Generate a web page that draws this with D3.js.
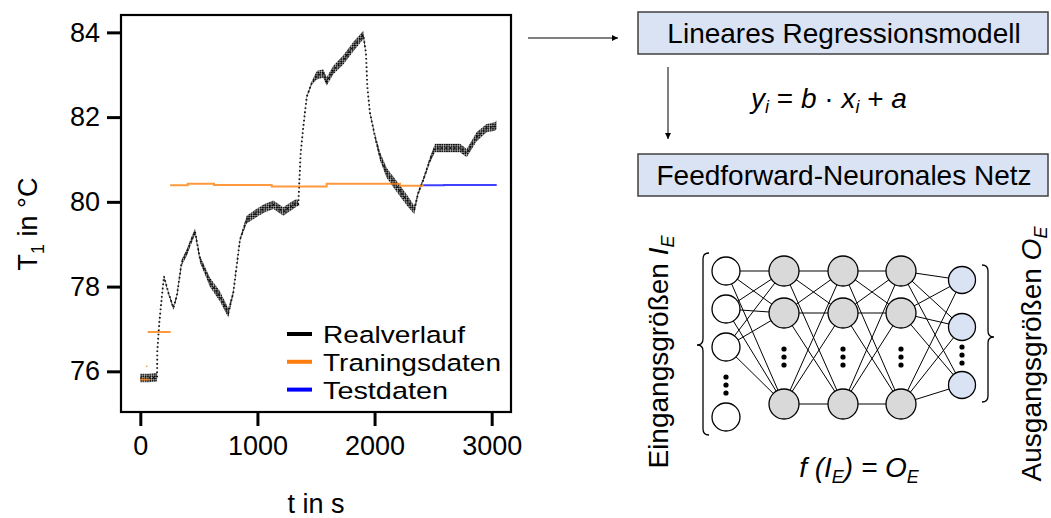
<!DOCTYPE html>
<html>
<head>
<meta charset="utf-8">
<script src="https://cdn.jsdelivr.net/npm/d3@7"></script>
<style>
    body { margin: 0; background: #fff; }
    svg text { font-family: "Liberation Sans", Arial, sans-serif; fill: #000; }
</style>
</head>
<body>
<svg id="fig" width="1051" height="518"></svg>
<script>
// --- Data ---
// Realverlauf: time in s, temperature in °C, half width of the noisy band in °C
const realTime = [0, 70, 143, 145, 162, 183, 202, 240, 282, 311, 353, 396, 430, 467, 510, 595, 680, 751, 794, 851, 908, 994, 1060, 1136, 1221, 1290, 1335, 1349, 1369, 1392, 1421, 1463, 1506, 1562, 1591, 1648, 1733, 1818, 1904, 1927, 1938, 1961, 2004, 2047, 2104, 2189, 2274, 2339, 2373, 2416, 2473, 2516, 2616, 2729, 2787, 2872, 2957, 3028, 3043];
const realTemp = [75.84, 75.84, 75.86, 76.48, 77.15, 77.74, 78.24, 77.85, 77.5, 77.77, 78.57, 78.8, 79.05, 79.3, 78.64, 78.1, 77.77, 77.38, 77.86, 79.11, 79.58, 79.74, 79.85, 79.93, 79.77, 79.9, 79.98, 79.95, 81.15, 81.78, 82.48, 82.8, 82.99, 83.03, 82.84, 83.11, 83.35, 83.66, 83.94, 83.5, 82.72, 82.09, 81.54, 81.07, 80.68, 80.36, 80.05, 79.81, 80.21, 80.52, 80.99, 81.27, 81.27, 81.27, 81.15, 81.54, 81.74, 81.78, 81.82];
const realSpread = [0.1, 0.1, 0.1, 0.02, 0.02, 0.02, 0.03, 0.04, 0.05, 0.05, 0.07, 0.08, 0.08, 0.07, 0.08, 0.11, 0.12, 0.11, 0.05, 0.04, 0.09, 0.1, 0.1, 0.1, 0.1, 0.1, 0.09, 0.05, 0.02, 0.02, 0.03, 0.04, 0.1, 0.1, 0.1, 0.1, 0.11, 0.11, 0.1, 0.02, 0.02, 0.03, 0.06, 0.1, 0.12, 0.13, 0.13, 0.1, 0.05, 0.05, 0.07, 0.1, 0.1, 0.1, 0.1, 0.11, 0.1, 0.1, 0.1];

// Traningsdaten (step lines, null = gap)
const trainTime = [0, 80, null, 63, 260, null, 254, 405, 629, 1122, 1591, 2217, 2416];
const trainTemp = [75.81, 75.81, null, 76.93, 76.93, null, 80.39, 80.43, 80.40, 80.36, 80.43, 80.38, 80.38];
const trainDotTime = [55];
const trainDotTemp = [76.12];

// Testdaten (step line)
const testTime = [2416, 2592, 3043];
const testTemp = [80.39, 80.40, 80.40];

const xTicks = [0, 1000, 2000, 3000];
const yTicks = [76, 78, 80, 82, 84];
const legendLabels = ["Realverlauf", "Traningsdaten", "Testdaten"];
const legendColors = ["#000000", "#ff7f0e", "#0000ff"];

// --- Layout ---
const svg = d3.select("#fig");
const plot = { left: 121, top: 15, right: 511, bottom: 412 };

const x = d3.scaleLinear().domain([-165, 3165]).range([plot.left, plot.right]);
const y = d3.scaleLinear().domain([75.04, 84.41]).range([plot.bottom, plot.top]);

// dotted texture for the noisy band
const defs = svg.append("defs");
defs.append("pattern")
    .attr("id", "dots")
    .attr("width", 2.3).attr("height", 1.8)
    .attr("patternUnits", "userSpaceOnUse")
    .append("rect")
    .attr("width", 1.9).attr("height", 1.4)
    .attr("fill", "#000");

// --- Real curve ---
const realData = realTime.map(function (t, i) {
    return { t: t, v: realTemp[i], s: realSpread[i] };
});

svg.append("path")
    .datum(realData)
    .attr("fill", "url(#dots)")
    .attr("d", d3.area()
        .x(function (d) { return x(d.t); })
        .y0(function (d) { return y(d.v - d.s); })
        .y1(function (d) { return y(d.v + d.s); }));

svg.append("path")
    .datum(realData)
    .attr("fill", "none")
    .attr("stroke", "#111")
    .attr("stroke-width", 1.8)
    .attr("stroke-dasharray", "1.6 2.6")
    .attr("d", d3.line()
        .x(function (d) { return x(d.t); })
        .y(function (d) { return y(d.v); }));

// --- Training / test steps ---
function stepLine(times, temps) {
    return d3.line()
        .defined(function (d) { return d[0] !== null; })
        .curve(d3.curveStepAfter)
        .x(function (d) { return x(d[0]); })
        .y(function (d) { return y(d[1]); })(d3.zip(times, temps));
}

svg.append("path")
    .attr("d", stepLine(trainTime, trainTemp))
    .attr("fill", "none")
    .attr("stroke", "#ff7f0e")
    .attr("stroke-opacity", 0.8)
    .attr("stroke-width", 2);

svg.selectAll(".train-dot")
    .data(d3.zip(trainDotTime, trainDotTemp))
    .join("circle")
    .attr("cx", function (d) { return x(d[0]); })
    .attr("cy", function (d) { return y(d[1]); })
    .attr("r", 1)
    .attr("fill", "#ff7f0e")
    .attr("opacity", 0.6);

svg.append("path")
    .attr("d", stepLine(testTime, testTemp))
    .attr("fill", "none")
    .attr("stroke", "#0000ff")
    .attr("stroke-opacity", 0.75)
    .attr("stroke-width", 2);

// --- Frame and axes ---
svg.append("rect")
    .attr("x", plot.left).attr("y", plot.top)
    .attr("width", plot.right - plot.left)
    .attr("height", plot.bottom - plot.top)
    .attr("fill", "none")
    .attr("stroke", "#000")
    .attr("stroke-width", 2.2);

const xAxis = svg.append("g")
    .attr("transform", "translate(0," + (plot.bottom + 1) + ")")
    .call(d3.axisBottom(x).tickValues(xTicks).tickSize(13).tickPadding(10).tickFormat(d3.format("d")));

const yAxis = svg.append("g")
    .attr("transform", "translate(" + (plot.left - 1) + ",0)")
    .call(d3.axisLeft(y).tickValues(yTicks).tickSize(13).tickPadding(7).tickFormat(d3.format("d")));

[xAxis, yAxis].forEach(function (g) {
    g.select(".domain").remove();
    g.selectAll(".tick line").attr("stroke", "#000").attr("stroke-width", 3);
    g.selectAll(".tick text")
        .style("font-family", "'Liberation Sans', Arial, sans-serif")
        .style("font-size", "27px")
        .attr("fill", "#000");
});

svg.append("text")
    .attr("x", (plot.left + plot.right) / 2)
    .attr("y", 513)
    .attr("text-anchor", "middle")
    .style("font-size", "27px")
    .text("t  in s");

const yLabel = svg.append("text")
    .attr("transform", "translate(37,224) rotate(-90)")
    .attr("text-anchor", "middle")
    .style("font-size", "27px");
yLabel.append("tspan").text("T");
yLabel.append("tspan").attr("dy", 7).style("font-size", "18px").text("1");
yLabel.append("tspan").attr("dy", -7).text(" in °C");

// --- Legend ---
const legendWidths = [142, 178, 125];
const legend = svg.append("g").attr("transform", "translate(287,334)");
legendLabels.forEach(function (label, i) {
    const row = legend.append("g").attr("transform", "translate(0," + (i * 27.8) + ")");
    row.append("line")
        .attr("x1", 0).attr("x2", 25)
        .attr("stroke", legendColors[i])
        .attr("stroke-width", 4);
    row.append("text")
        .attr("x", 36).attr("y", 9)
        .attr("textLength", legendWidths[i])
        .attr("lengthAdjust", "spacingAndGlyphs")
        .style("font-size", "24.5px")
        .text(label);
});

// --- Right side: model boxes ---
const arrowColor = "#000";
defs.append("marker")
    .attr("id", "arrow")
    .attr("viewBox", "0 0 10 10")
    .attr("refX", 10).attr("refY", 5)
    .attr("markerWidth", 6).attr("markerHeight", 6)
    .attr("markerUnits", "userSpaceOnUse")
    .attr("orient", "auto")
    .append("path")
    .attr("d", "M0,0 L10,5 L0,10 z")
    .attr("fill", arrowColor);

svg.append("line")
    .attr("x1", 528).attr("y1", 38).attr("x2", 618).attr("y2", 38)
    .attr("stroke", arrowColor).attr("stroke-width", 1)
    .attr("marker-end", "url(#arrow)");

svg.append("line")
    .attr("x1", 668).attr("y1", 67).attr("x2", 668).attr("y2", 139)
    .attr("stroke", arrowColor).attr("stroke-width", 1)
    .attr("marker-end", "url(#arrow)");

const boxes = [
    { y: 12, label: "Lineares Regressionsmodell" },
    { y: 154, label: "Feedforward-Neuronales Netz" }
];
boxes.forEach(function (b) {
    svg.append("rect")
        .attr("x", 638).attr("y", b.y)
        .attr("width", 410).attr("height", 42)
        .attr("fill", "#dae3f3")
        .attr("stroke", "#404040")
        .attr("stroke-width", 1.5);
    svg.append("text")
        .attr("x", 844).attr("y", b.y + 31)
        .attr("text-anchor", "middle")
        .style("font-size", "28px")
        .text(b.label);
});

const formula = svg.append("text")
    .attr("x", 829).attr("y", 108)
    .attr("text-anchor", "middle")
    .style("font-size", "28px");
formula.append("tspan").style("font-style", "italic").text("y");
formula.append("tspan").style("font-style", "italic").style("font-size", "18px").attr("dy", 5).text("i");
formula.append("tspan").attr("dy", -5).text(" = ");
formula.append("tspan").style("font-style", "italic").text("b");
formula.append("tspan").text("  ·  ");
formula.append("tspan").style("font-style", "italic").text("x");
formula.append("tspan").style("font-style", "italic").style("font-size", "18px").attr("dy", 5).text("i");
formula.append("tspan").attr("dy", -5).text(" + ");
formula.append("tspan").style("font-style", "italic").text("a");

// --- Neural network sketch ---
const layers = [
    { x: 726, ys: [271, 309, 347, 417], r: 14, fill: "#ffffff", out: [0, 1, 2], dots: 385 },
    { x: 784, ys: [271, 313, 404], r: 15, fill: "#d9d9d9", out: [0, 1, 2], dots: 357 },
    { x: 843, ys: [271, 313, 404], r: 15, fill: "#d9d9d9", out: [0, 1, 2], dots: 357 },
    { x: 901, ys: [271, 313, 404], r: 15, fill: "#d9d9d9", out: [0, 1, 2], dots: 357 },
    { x: 962, ys: [280, 327, 385], r: 13.5, fill: "#dae3f3", out: [], dots: 355 }
];
const net = svg.append("g");
layers.forEach(function (layer, li) {
    const next = layers[li + 1];
    if (!next) return;
    layer.out.forEach(function (i) {
        next.ys.forEach(function (ny) {
            net.append("line")
                .attr("x1", layer.x).attr("y1", layer.ys[i])
                .attr("x2", next.x).attr("y2", ny)
                .attr("stroke", "#000").attr("stroke-width", 1);
        });
    });
});
layers.forEach(function (layer) {
    layer.ys.forEach(function (cy) {
        net.append("circle")
            .attr("cx", layer.x).attr("cy", cy).attr("r", layer.r)
            .attr("fill", layer.fill)
            .attr("stroke", "#000").attr("stroke-width", 1.3);
    });
    [-8, 0, 8].forEach(function (d) {
        net.append("circle")
            .attr("cx", layer.x).attr("cy", layer.dots + d).attr("r", 2.6)
            .attr("fill", "#000");
    });
});

// braces
svg.append("path")
    .attr("d", "M709,253 Q703,253 703,259 L703,339 Q703,345 697,345 Q703,345 703,351 L703,429 Q703,435 709,435")
    .attr("fill", "none").attr("stroke", "#000").attr("stroke-width", 1.3);
svg.append("path")
    .attr("d", "M982,265 Q988,265 988,271 L988,331 Q988,337 994,337 Q988,337 988,343 L988,396 Q988,402 982,402")
    .attr("fill", "none").attr("stroke", "#000").attr("stroke-width", 1.3);

function subLabel(tx, ty, main, sym, sub) {
    const t = svg.append("text")
        .attr("transform", "translate(" + tx + "," + ty + ") rotate(-90)")
        .attr("text-anchor", "middle")
        .style("font-size", "28px");
    t.append("tspan").text(main + " ");
    t.append("tspan").style("font-style", "italic").text(sym);
    t.append("tspan").style("font-style", "italic").style("font-size", "18px").attr("dy", 6).text(sub);
}
subLabel(668, 352, "Eingangsgrößen", "I", "E");
subLabel(1041, 354, "Ausgangsgrößen", "O", "E");

const fLabel = svg.append("text")
    .attr("x", 859).attr("y", 477)
    .attr("text-anchor", "middle")
    .style("font-size", "28px")
    .style("font-style", "italic");
fLabel.append("tspan").text("f (I");
fLabel.append("tspan").style("font-size", "18px").attr("dy", 6).text("E");
fLabel.append("tspan").attr("dy", -6).text(") = O");
fLabel.append("tspan").style("font-size", "18px").attr("dy", 6).text("E");
</script>
</body>
</html>
